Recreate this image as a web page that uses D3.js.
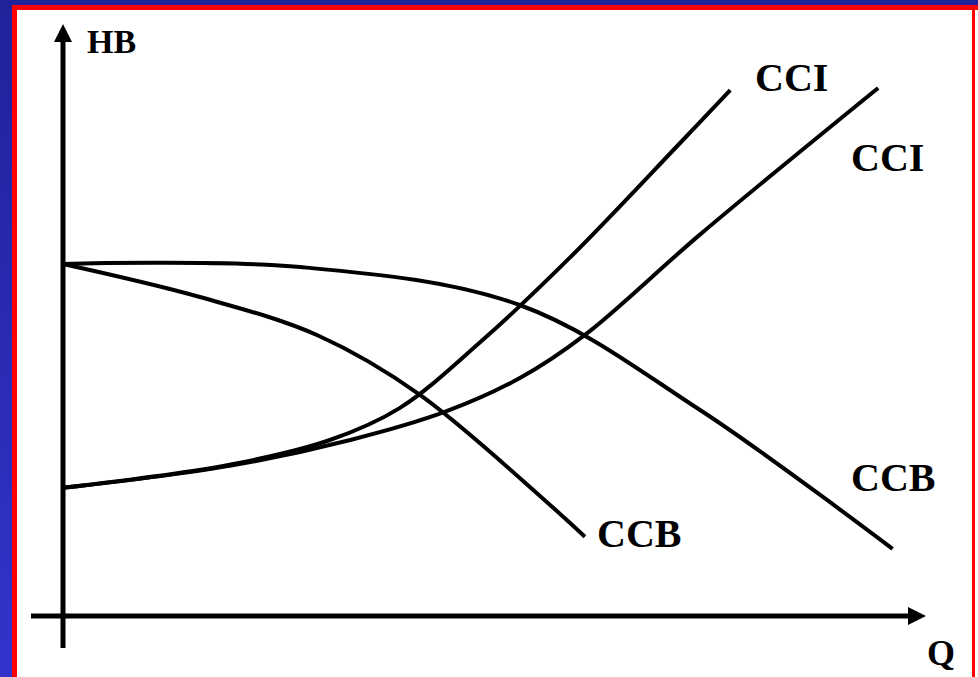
<!DOCTYPE html>
<html>
<head>
<meta charset="utf-8">
<script src="https://cdn.jsdelivr.net/npm/d3@7"></script>
<style>
  html, body { margin: 0; padding: 0; background: #fff; }
  #chart { width: 978px; height: 677px; }
</style>
</head>
<body>
<div id="chart"></div>
<script>
// pump curves (CCB) and system curves (CCI), Q vs HB, in arbitrary units
const ccb1Q = [0, 16.1, 30, 42, 61.4];
const ccb1H = [64, 58, 51, 40.2, 14.4];

const ccb2Q = [0, 27.9, 53.8, 74.9, 97.6];
const ccb2H = [64, 63.45, 56.5, 37.5, 12.2];

const cci1Q = [0, 19.6, 31.4, 39.6, 49.1, 59.6, 72.6, 78.5];
const cci1H = [23.3, 27.5, 32, 37.8, 49.8, 65.1, 86, 95.6];

const cci2Q = [0, 19.6, 33.8, 44.9, 53.8, 61.4, 74.9, 95.9];
const cci2H = [23.3, 27.3, 32, 37.1, 43.3, 51.1, 69.3, 96];

const labels = ['CCI', 'CCI', 'CCB', 'CCB'];

const W = 978, H = 677;
const svg = d3.select('#chart').append('svg')
  .attr('width', W).attr('height', H);

// frame: blue slide background, red border, white panel
const defs = svg.append('defs');
const grad = defs.append('linearGradient').attr('id', 'bg')
  .attr('x1', 0).attr('y1', 0).attr('x2', 0).attr('y2', 1);
grad.append('stop').attr('offset', '0%').attr('stop-color', '#21219a');
grad.append('stop').attr('offset', '100%').attr('stop-color', '#3333cc');

svg.append('rect').attr('width', W).attr('height', H).attr('fill', 'url(#bg)');
svg.append('rect').attr('x', 12).attr('y', 5).attr('width', W - 12).attr('height', H)
  .attr('fill', '#ff0000');
svg.append('rect').attr('x', 17).attr('y', 10).attr('width', 955).attr('height', H)
  .attr('fill', '#fff');
svg.append('rect').attr('x', 975).attr('y', 10).attr('width', 3).attr('height', H)
  .attr('fill', '#fff');

const x = d3.scaleLinear().domain([0, 100]).range([63, 913]);
const y = d3.scaleLinear().domain([0, 100]).range([616, 66]);

// arrow heads
defs.append('marker').attr('id', 'arrow')
  .attr('viewBox', '0 0 10 10').attr('refX', 0).attr('refY', 5)
  .attr('markerWidth', 3.6).attr('markerHeight', 3.6)
  .attr('markerUnits', 'strokeWidth')
  .attr('orient', 'auto')
  .append('path').attr('d', 'M0,0 L10,5 L0,10 Z').attr('fill', '#000');

// axes
svg.append('line')
  .attr('x1', x(0)).attr('y1', 648).attr('x2', x(0)).attr('y2', 42)
  .attr('stroke', '#000').attr('stroke-width', 5).attr('marker-end', 'url(#arrow)');
svg.append('line')
  .attr('x1', 31).attr('y1', y(0)).attr('x2', 908).attr('y2', y(0))
  .attr('stroke', '#000').attr('stroke-width', 5).attr('marker-end', 'url(#arrow)');

const line = d3.line()
  .x(d => x(d[0])).y(d => y(d[1]))
  .curve(d3.curveCatmullRom.alpha(0.5));

const series = [
  d3.zip(cci1Q, cci1H),
  d3.zip(cci2Q, cci2H),
  d3.zip(ccb2Q, ccb2H),
  d3.zip(ccb1Q, ccb1H)
];

svg.selectAll('.curve')
  .data(series)
  .join('path')
  .attr('class', 'curve')
  .attr('d', line)
  .attr('fill', 'none')
  .attr('stroke', '#000')
  .attr('stroke-width', 4)
  .attr('stroke-linecap', 'butt');

const font = '"Liberation Serif", "Times New Roman", serif';

// curve labels, placed next to each curve's end
const labelPos = [
  { x: 755, y: 91 },
  { x: 851, y: 171 },
  { x: 851, y: 491 },
  { x: 597, y: 547 }
];
svg.selectAll('.lbl')
  .data(labels)
  .join('text')
  .attr('class', 'lbl')
  .attr('x', (d, i) => labelPos[i].x)
  .attr('y', (d, i) => labelPos[i].y)
  .attr('font-family', font)
  .attr('font-weight', 'bold')
  .attr('font-size', 40)
  .attr('fill', '#000')
  .text(d => d);

svg.append('text')
  .attr('x', 87).attr('y', 53)
  .attr('font-family', font).attr('font-weight', 'bold').attr('font-size', 34)
  .text('HB');

svg.append('text')
  .attr('x', 927).attr('y', 665)
  .attr('font-family', font).attr('font-weight', 'bold').attr('font-size', 36)
  .text('Q');
</script>
</body>
</html>
